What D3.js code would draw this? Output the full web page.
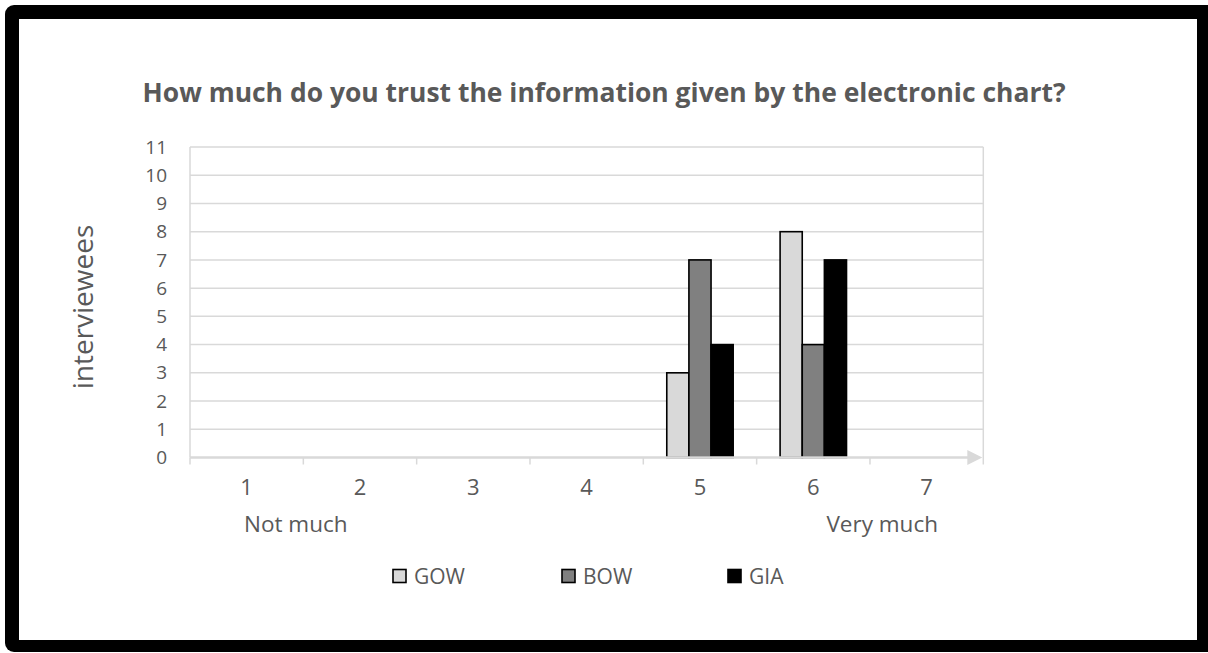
<!DOCTYPE html>
<html>
<head>
<meta charset="utf-8">
<script src="https://cdn.jsdelivr.net/npm/d3@7"></script>
<style>
  html, body { margin: 0; padding: 0; background: #fff; }
  svg { display: block; }
  text { font-family: "Open Sans", "Noto Sans", sans-serif; fill: #595959; }
</style>
</head>
<body>
<svg id="chart" width="1208" height="653"></svg>
<script>
// Survey answers on a 1-7 scale, counted per group
const categories = ["1", "2", "3", "4", "5", "6", "7"];
const seriesNames = ["GOW", "BOW", "GIA"];
const gowValues = [0, 0, 0, 0, 3, 8, 0];
const bowValues = [0, 0, 0, 0, 7, 4, 0];
const giaValues = [0, 0, 0, 0, 4, 7, 0];
const yTickValues = [0, 1, 2, 3, 4, 5, 6, 7, 8, 9, 10, 11];
const seriesFills = ["#d9d9d9", "#808080", "#000000"];

const titleText = "How much do you trust the information given by the electronic chart?";
const yLabelText = "interviewees";
const lowLabel = "Not much";
const highLabel = "Very much";

const series = [
  { name: seriesNames[0], values: gowValues, fill: seriesFills[0] },
  { name: seriesNames[1], values: bowValues, fill: seriesFills[1] },
  { name: seriesNames[2], values: giaValues, fill: seriesFills[2] }
];

const svg = d3.select("#chart");
const W = 1208, H = 653;

// Black rounded frame around the chart
svg.append("rect").attr("x", 5).attr("y", 5).attr("width", 1215).attr("height", 647)
  .attr("rx", 9).attr("fill", "#000");
svg.append("rect").attr("x", 19).attr("y", 19).attr("width", 1178).attr("height", 621)
  .attr("fill", "#fff");

// Plot area
const plot = { left: 190, right: 983.3, top: 147, bottom: 457.5 };

const x = d3.scaleBand().domain(categories).range([plot.left, plot.right]).paddingInner(0).paddingOuter(0);
const y = d3.scaleLinear().domain([0, 11]).range([plot.bottom, plot.top]);
const groupWidth = x.bandwidth() * 0.586;
const xSeries = d3.scaleBand().domain(seriesNames).range([-groupWidth / 2, groupWidth / 2]).padding(0);

const gridColor = "#d9d9d9";

// Horizontal gridlines
svg.append("g").selectAll("line").data(yTickValues.filter(v => v > 0)).join("line")
  .attr("x1", plot.left).attr("x2", plot.right)
  .attr("y1", d => y(d)).attr("y2", d => y(d))
  .attr("stroke", gridColor).attr("stroke-width", 1.5);

// Plot area side borders
svg.append("line").attr("x1", plot.left).attr("x2", plot.left)
  .attr("y1", plot.top).attr("y2", plot.bottom)
  .attr("stroke", gridColor).attr("stroke-width", 1.5);
svg.append("line").attr("x1", plot.right).attr("x2", plot.right)
  .attr("y1", plot.top).attr("y2", plot.bottom + 7)
  .attr("stroke", gridColor).attr("stroke-width", 1.5);

// Y axis labels
const yAxis = d3.axisLeft(y).tickValues(yTickValues).tickSize(0).tickPadding(23);
const gy = svg.append("g").attr("transform", `translate(${plot.left},0)`).call(yAxis);
gy.select(".domain").remove();
gy.selectAll("text").style("font-size", "19px").attr("fill", "#595959")
  .style("font-family", "'Open Sans', sans-serif");

// Bars
const barGroups = svg.append("g").selectAll("g").data(series).join("g")
  .attr("fill", d => d.fill);
barGroups.selectAll("rect")
  .data(s => s.values.map((v, i) => ({ name: s.name, cat: categories[i], value: v })).filter(d => d.value > 0))
  .join("rect")
  .attr("x", d => x(d.cat) + x.bandwidth() / 2 + xSeries(d.name))
  .attr("width", xSeries.bandwidth())
  .attr("y", d => y(d.value))
  .attr("height", d => y(0) - y(d.value))
  .attr("stroke", "#000").attr("stroke-width", 1.6);

// X axis with arrow
const xAxis = d3.axisBottom(x).tickSize(0).tickPadding(0);
const gx = svg.append("g").attr("transform", `translate(0,${plot.bottom})`).call(xAxis);
gx.select(".domain").remove();
gx.selectAll("text").attr("y", 37.5).attr("dy", 0)
  .style("font-size", "22px").attr("fill", "#595959")
  .style("font-family", "'Open Sans', sans-serif");

svg.append("line").attr("x1", plot.left).attr("x2", plot.right - 14)
  .attr("y1", plot.bottom).attr("y2", plot.bottom)
  .attr("stroke", gridColor).attr("stroke-width", 2.5);
svg.append("path")
  .attr("d", `M${plot.right - 16},${plot.bottom - 7.5} L${plot.right - 1},${plot.bottom} L${plot.right - 16},${plot.bottom + 7.5} Z`)
  .attr("fill", gridColor);

// Category boundary ticks
const boundaries = categories.map(c => x(c));
svg.append("g").selectAll("line").data(boundaries).join("line")
  .attr("x1", d => d).attr("x2", d => d)
  .attr("y1", plot.bottom).attr("y2", plot.bottom + 7)
  .attr("stroke", gridColor).attr("stroke-width", 1.5);

// Scale end labels
svg.append("text").attr("x", 244).attr("y", 531.5).style("font-size", "22.5px").text(lowLabel);
svg.append("text").attr("x", 938).attr("y", 531.5).attr("text-anchor", "end").style("font-size", "22.5px").text(highLabel);

// Title
const title = svg.append("text").attr("x", W / 2).attr("y", 102).attr("text-anchor", "middle")
  .style("font-size", "27px").style("font-weight", "bold").text(titleText);
const tw = title.node().getComputedTextLength();
if (tw > 925) title.attr("textLength", 923).attr("lengthAdjust", "spacingAndGlyphs");

// Y axis title
svg.append("text").attr("transform", "translate(92.5,307) rotate(-90)")
  .attr("text-anchor", "middle").style("font-size", "28px").text(yLabelText);

// Legend
const legendX = [393, 562, 728];
const legend = svg.append("g").selectAll("g").data(series).join("g")
  .attr("transform", (d, i) => `translate(${legendX[i]},569.5)`);
legend.append("rect").attr("width", 13).attr("height", 13)
  .attr("fill", d => d.fill).attr("stroke", "#000").attr("stroke-width", 1.6);
legend.append("text").attr("x", 21).attr("y", 14).style("font-size", "21px").text(d => d.name);
</script>
</body>
</html>
